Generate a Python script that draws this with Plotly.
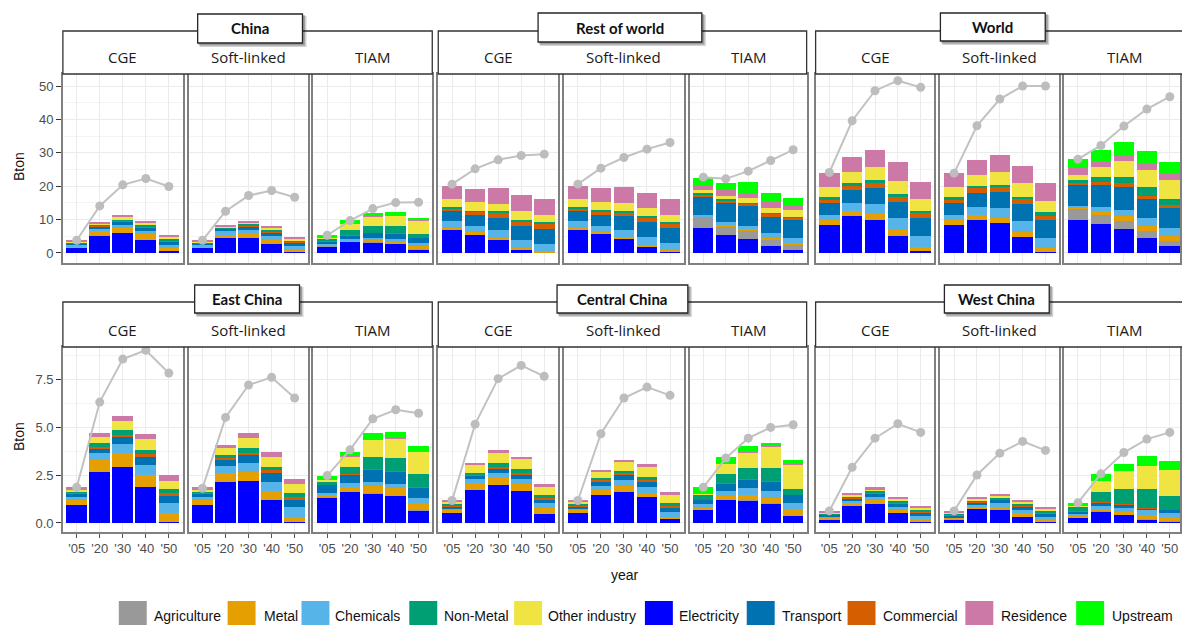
import numpy as np
import plotly.graph_objects as go

W, H = 1182, 625

YEARS = ["'05", "'20", "'30", "'40", "'50"]
MODELS = ["CGE", "Soft-linked", "TIAM"]
REGIONS = ["China", "Rest of world", "World", "East China", "Central China", "West China"]

# stacking order (bottom -> top)
STACK = ["Electricity", "Agriculture", "Metal", "Chemicals", "Transport",
         "Commercial", "Non-Metal", "Other industry", "Residence", "Upstream"]
LEGEND_ORDER = ["Agriculture", "Metal", "Chemicals", "Non-Metal", "Other industry",
                "Electricity", "Transport", "Commercial", "Residence", "Upstream"]
COLORS = {
    "Agriculture": "#999999", "Metal": "#E69F00", "Chemicals": "#56B4E9",
    "Non-Metal": "#009E73", "Other industry": "#F0E442", "Electricity": "#0000FF",
    "Transport": "#0072B2", "Commercial": "#D55E00", "Residence": "#CC79A7",
    "Upstream": "#00FF00",
}

# Cumulative stack tops (Bton) per year, in STACK order
CHINA_TOPS = {
    "CGE": [[1.5, 1.5, 2.0, 2.4, 2.8, 2.9, 3.2, 3.55, 3.8, 3.8],
            [5.2, 5.2, 6.5, 7.2, 8.0, 8.2, 8.5, 8.9, 9.2, 9.2],
            [6.0, 6.0, 7.5, 8.5, 9.5, 9.7, 10.0, 10.8, 11.1, 11.1],
            [4.0, 4.0, 5.7, 6.7, 7.7, 7.9, 8.3, 9.1, 9.5, 9.5],
            [0.5, 0.5, 1.5, 2.5, 3.5, 3.8, 4.2, 4.9, 5.4, 5.4]],
    "Soft-linked": [[1.5, 1.5, 2.0, 2.4, 2.8, 2.9, 3.2, 3.55, 3.8, 3.8],
                    [4.5, 4.5, 5.5, 6.5, 7.2, 7.4, 7.6, 8.0, 8.2, 8.2],
                    [4.5, 4.5, 6.0, 7.0, 8.0, 8.2, 8.6, 9.2, 9.5, 9.5],
                    [2.7, 2.7, 4.0, 5.2, 6.2, 6.5, 6.9, 7.6, 8.0, 8.0],
                    [0.3, 0.3, 1.0, 2.2, 3.2, 3.4, 3.7, 4.4, 4.7, 4.7]],
    "TIAM": [[2.0, 2.2, 2.4, 2.7, 3.4, 3.5, 4.3, 4.6, 4.7, 5.3],
             [3.3, 3.4, 3.7, 4.2, 5.2, 5.3, 6.8, 8.7, 8.8, 9.8],
             [3.2, 3.3, 3.8, 4.6, 6.0, 6.1, 8.1, 11.0, 11.1, 12.0],
             [2.7, 2.8, 3.4, 4.2, 5.8, 5.9, 8.0, 11.2, 11.3, 12.4],
             [1.1, 1.2, 2.1, 3.0, 4.5, 4.6, 5.8, 9.7, 9.8, 10.5]],
}
ROW_TOPS = {
    "CGE": [[6.8, 6.8, 7.5, 9.5, 12.5, 13.1, 13.9, 16.2, 20.2, 20.2],
            [5.5, 5.5, 6.2, 8.0, 11.5, 12.3, 12.7, 15.4, 19.2, 19.2],
            [4.0, 4.0, 4.5, 6.8, 10.5, 12.0, 12.5, 14.7, 19.4, 19.4],
            [1.0, 1.0, 1.5, 4.0, 8.2, 9.5, 10.0, 12.5, 17.4, 17.4],
            [0.2, 0.2, 0.5, 2.7, 7.2, 8.8, 9.2, 11.5, 16.1, 16.1]],
    "Soft-linked": [[6.8, 6.8, 7.5, 9.5, 12.5, 13.1, 13.9, 16.2, 20.2, 20.2],
                    [5.7, 5.7, 6.3, 8.2, 11.5, 12.5, 12.9, 15.4, 19.6, 19.6],
                    [4.3, 4.3, 4.8, 7.0, 11.0, 12.2, 12.6, 15.1, 19.7, 19.7],
                    [2.0, 2.0, 2.5, 4.8, 9.2, 10.4, 11.0, 13.4, 18.1, 18.1],
                    [0.5, 0.5, 0.8, 3.0, 7.5, 8.8, 9.2, 11.5, 16.1, 16.1]],
    "TIAM": [[7.5, 10.8, 11.0, 11.5, 16.9, 17.4, 17.9, 18.9, 20.4, 22.6],
             [5.4, 8.0, 8.5, 9.2, 14.9, 15.6, 16.1, 17.2, 18.9, 21.1],
             [4.2, 6.8, 7.2, 8.0, 14.0, 14.7, 15.1, 16.6, 18.1, 21.2],
             [2.0, 3.8, 4.5, 6.0, 10.8, 11.7, 12.0, 13.4, 15.2, 18.1],
             [0.8, 2.3, 3.0, 4.5, 10.0, 10.5, 10.8, 12.9, 14.1, 16.4]],
}
WORLD_TOPS = {
    "CGE": [[8.5, 8.5, 9.8, 11.5, 15.1, 15.9, 16.9, 19.7, 23.9, 23.9],
            [11.0, 11.0, 12.5, 14.9, 18.9, 20.1, 20.9, 24.4, 28.7, 28.7],
            [10.0, 10.0, 11.8, 14.7, 19.4, 20.9, 21.9, 25.7, 30.7, 30.7],
            [5.0, 5.0, 7.0, 10.5, 15.4, 16.7, 17.6, 21.7, 27.1, 27.1],
            [0.5, 0.5, 1.8, 5.0, 10.5, 12.0, 12.7, 16.1, 21.4, 21.4]],
    "Soft-linked": [[8.5, 8.5, 9.8, 11.5, 15.1, 15.9, 16.9, 19.7, 23.9, 23.9],
                    [10.0, 10.0, 11.5, 13.9, 18.1, 19.4, 20.1, 23.4, 27.7, 27.7],
                    [9.0, 9.0, 10.5, 13.4, 18.4, 19.7, 20.4, 24.4, 29.4, 29.4],
                    [4.8, 4.8, 6.2, 9.5, 14.7, 16.1, 16.9, 20.9, 26.1, 26.1],
                    [0.2, 0.2, 1.5, 4.5, 10.0, 11.2, 12.2, 15.6, 20.9, 20.9]],
    "TIAM": [[10.0, 13.4, 13.7, 14.1, 20.4, 21.1, 21.9, 23.4, 25.4, 28.1],
             [8.8, 11.5, 12.5, 13.9, 20.4, 21.4, 22.7, 25.9, 27.4, 30.9],
             [7.2, 9.5, 11.0, 12.9, 19.9, 20.9, 22.9, 27.4, 28.9, 33.1],
             [4.5, 6.5, 8.0, 10.5, 16.1, 17.1, 19.7, 24.9, 26.9, 30.4],
             [2.0, 3.5, 5.0, 7.5, 13.4, 14.4, 16.1, 21.9, 23.9, 27.2]],
}
EAST_TOPS = {
    "CGE": [[0.94, 0.94, 1.2, 1.37, 1.55, 1.58, 1.64, 1.76, 1.86, 1.86],
            [2.68, 2.68, 3.29, 3.64, 3.9, 3.98, 4.16, 4.5, 4.68, 4.68],
            [2.9, 2.9, 3.64, 4.12, 4.5, 4.6, 4.85, 5.34, 5.6, 5.6],
            [1.86, 1.86, 2.5, 3.03, 3.46, 3.6, 3.81, 4.37, 4.65, 4.65],
            [0.03, 0.03, 0.5, 1.03, 1.41, 1.55, 1.77, 2.2, 2.49, 2.49]],
    "Soft-linked": [[0.94, 0.94, 1.2, 1.37, 1.55, 1.58, 1.64, 1.76, 1.86, 1.86],
                    [2.16, 2.16, 2.63, 2.98, 3.29, 3.38, 3.55, 3.9, 4.04, 4.04],
                    [2.21, 2.21, 2.68, 3.15, 3.55, 3.67, 3.9, 4.42, 4.68, 4.68],
                    [1.2, 1.2, 1.69, 2.16, 2.59, 2.77, 2.94, 3.46, 3.72, 3.72],
                    [0.07, 0.07, 0.33, 0.85, 1.2, 1.37, 1.55, 2.04, 2.28, 2.28]],
    "TIAM": [[1.34, 1.36, 1.46, 1.55, 1.98, 2.0, 2.16, 2.28, 2.3, 2.47],
             [1.62, 1.64, 1.9, 2.07, 2.5, 2.53, 2.94, 3.46, 3.48, 3.72],
             [1.55, 1.57, 1.93, 2.16, 2.77, 2.8, 3.43, 4.33, 4.35, 4.68],
             [1.41, 1.43, 1.81, 2.04, 2.68, 2.72, 3.38, 4.42, 4.44, 4.72],
             [0.64, 0.66, 1.06, 1.29, 1.86, 1.88, 2.54, 3.72, 3.74, 4.02]],
}
CENTRAL_TOPS = {
    "CGE": [[0.5, 0.5, 0.68, 0.77, 0.85, 0.88, 0.99, 1.11, 1.2, 1.2],
            [1.72, 1.72, 2.07, 2.28, 2.45, 2.5, 2.63, 3.0, 3.11, 3.11],
            [1.98, 1.98, 2.38, 2.63, 2.85, 2.94, 3.11, 3.64, 3.81, 3.81],
            [1.69, 1.69, 2.04, 2.28, 2.54, 2.63, 2.8, 3.32, 3.46, 3.46],
            [0.47, 0.47, 0.77, 1.03, 1.24, 1.32, 1.46, 1.9, 2.02, 2.02]],
    "Soft-linked": [[0.5, 0.5, 0.68, 0.77, 0.85, 0.88, 0.99, 1.11, 1.2, 1.2],
                    [1.46, 1.46, 1.72, 1.93, 2.16, 2.24, 2.33, 2.68, 2.77, 2.77],
                    [1.64, 1.64, 1.93, 2.24, 2.5, 2.59, 2.73, 3.18, 3.29, 3.29],
                    [1.37, 1.37, 1.58, 1.9, 2.16, 2.24, 2.38, 2.94, 3.06, 3.06],
                    [0.19, 0.19, 0.3, 0.59, 0.82, 0.9, 1.06, 1.46, 1.6, 1.6]],
    "TIAM": [[0.68, 0.7, 0.8, 0.99, 1.2, 1.22, 1.46, 1.55, 1.57, 1.86],
             [1.2, 1.22, 1.41, 1.69, 2.04, 2.06, 2.56, 3.11, 3.13, 3.46],
             [1.17, 1.19, 1.46, 1.81, 2.24, 2.28, 2.85, 3.67, 3.69, 4.02],
             [1.03, 1.05, 1.29, 1.69, 2.16, 2.2, 2.85, 3.98, 4.0, 4.19],
             [0.37, 0.39, 0.71, 1.06, 1.46, 1.48, 1.76, 3.06, 3.08, 3.29]],
}
WEST_TOPS = {
    "CGE": [[0.19, 0.19, 0.28, 0.33, 0.42, 0.45, 0.5, 0.56, 0.63, 0.63],
            [0.89, 0.89, 1.03, 1.17, 1.29, 1.32, 1.37, 1.5, 1.58, 1.58],
            [0.99, 0.99, 1.2, 1.37, 1.55, 1.6, 1.67, 1.77, 1.86, 1.86],
            [0.5, 0.5, 0.68, 0.85, 1.03, 1.07, 1.17, 1.29, 1.37, 1.37],
            [0.03, 0.03, 0.19, 0.37, 0.54, 0.6, 0.68, 0.8, 0.89, 0.89]],
    "Soft-linked": [[0.17, 0.17, 0.26, 0.31, 0.4, 0.43, 0.48, 0.53, 0.59, 0.59],
                    [0.71, 0.71, 0.82, 0.94, 1.06, 1.1, 1.17, 1.27, 1.34, 1.34],
                    [0.68, 0.68, 0.85, 1.03, 1.2, 1.24, 1.34, 1.43, 1.51, 1.51],
                    [0.3, 0.3, 0.5, 0.68, 0.85, 0.9, 0.99, 1.08, 1.2, 1.2],
                    [0.03, 0.03, 0.16, 0.33, 0.5, 0.55, 0.64, 0.71, 0.82, 0.82]],
    "TIAM": [[0.28, 0.29, 0.37, 0.45, 0.59, 0.6, 0.85, 0.92, 0.93, 1.06],
             [0.59, 0.6, 0.71, 0.89, 1.06, 1.07, 1.6, 2.19, 2.2, 2.54],
             [0.42, 0.43, 0.59, 0.8, 0.97, 0.98, 1.76, 2.71, 2.72, 3.08],
             [0.19, 0.2, 0.42, 0.68, 0.77, 0.78, 1.76, 2.98, 2.99, 3.51],
             [0.09, 0.1, 0.33, 0.5, 0.68, 0.69, 1.43, 2.8, 2.81, 3.25]],
}

# Grey line values (Bton)
CHINA_LINE = {"CGE": [3.8, 14.1, 20.4, 22.3, 19.9], "Soft-linked": [3.8, 12.5, 17.2, 18.7, 16.7],
              "TIAM": [5.3, 9.7, 13.3, 15.1, 15.2]}
ROW_LINE = {"CGE": [20.6, 25.2, 27.9, 29.2, 29.6], "Soft-linked": [20.6, 25.4, 28.6, 31.1, 33.1],
            "TIAM": [22.7, 22.2, 24.5, 27.7, 30.9]}
WORLD_LINE = {"CGE": [24.1, 39.6, 48.6, 51.6, 49.6], "Soft-linked": [23.9, 38.1, 46.1, 50.0, 50.0],
              "TIAM": [28.1, 32.2, 38.0, 43.1, 46.8]}
EAST_LINE = {"CGE": [1.86, 6.3, 8.54, 9.0, 7.81], "Soft-linked": [1.81, 5.5, 7.19, 7.59, 6.51],
             "TIAM": [2.47, 3.81, 5.43, 5.9, 5.72]}
CENTRAL_LINE = {"CGE": [1.17, 5.15, 7.52, 8.21, 7.64], "Soft-linked": [1.17, 4.65, 6.51, 7.08, 6.65],
                "TIAM": [1.86, 3.38, 4.42, 4.98, 5.12]}
WEST_LINE = {"CGE": [0.63, 2.9, 4.42, 5.17, 4.72], "Soft-linked": [0.63, 2.5, 3.64, 4.25, 3.78],
             "TIAM": [1.06, 2.56, 3.67, 4.37, 4.72]}

TOP_TICKS = [0, 10, 20, 30, 40, 50]
BOTTOM_TICKS = [0.0, 2.5, 5.0, 7.5]

ALL_TOPS = [CHINA_TOPS, ROW_TOPS, WORLD_TOPS, EAST_TOPS, CENTRAL_TOPS, WEST_TOPS]
ALL_LINES = [CHINA_LINE, ROW_LINE, WORLD_LINE, EAST_LINE, CENTRAL_LINE, WEST_LINE]

# ---------------- layout geometry (pixels) ----------------
PANEL_X = [[(63, 183), (189, 309), (314, 433)],
           [(439, 559), (565, 685), (691, 808)],
           [(817, 936), (942, 1061), (1066, 1182)]]
ROW_Y = [(74, 263), (347, 532)]
ROW_RANGE = [(-3.0, 53.6), (-0.47, 9.17)]
STRIP_Y = [(31, 74), (302, 347)]
STRIP_TEXT_Y = [57, 330]
LABEL_BOX = [(198, 303, 14, 43), (539, 703, 13, 42), (942, 1047, 13, 41),
             (195, 300, 285, 313), (558, 689, 285, 313), (946, 1051, 285, 313)]


def px(x):
    return x / W


def py(y):
    return 1 - y / H


fig = go.Figure()
layout = {}
shapes = []
annotations = []
xs = list(range(len(YEARS)))

for ri, region in enumerate(REGIONS):
    row = ri // 3
    col = ri % 3
    for mi, model in enumerate(MODELS):
        idx = ri * 3 + mi + 1
        sfx = "" if idx == 1 else str(idx)
        tops = np.array(ALL_TOPS[ri][model], dtype=float)
        base = np.concatenate([np.zeros((tops.shape[0], 1)), tops], axis=1)
        segs = np.clip(np.diff(base, axis=1), 0, None)
        for k, sector in enumerate(STACK):
            fig.add_trace(go.Bar(
                x=xs, y=segs[:, k], width=0.9, marker=dict(color=COLORS[sector], line=dict(width=0)),
                name=sector, showlegend=False, xaxis="x" + sfx, yaxis="y" + sfx,
                hovertemplate=region + " " + model + "<br>" + sector + ": %{y:.2f}<extra></extra>"))
        fig.add_trace(go.Scatter(
            x=xs, y=ALL_LINES[ri][model], mode="lines+markers",
            line=dict(color="#c2c2c2", width=2), marker=dict(color="#bdbdbd", size=9),
            showlegend=False, xaxis="x" + sfx, yaxis="y" + sfx, hoverinfo="y"))

        x0, x1 = PANEL_X[col][mi]
        y0, y1 = ROW_Y[row]
        is_last = (col == 2 and mi == 2)
        xr = [-0.6, -0.6 + (x1 - x0) / 23.0] if is_last else [-0.6, 4.6]
        layout["xaxis" + sfx] = dict(
            domain=[px(x0), px(x1)], range=xr, anchor="y" + sfx,
            tickmode="array", tickvals=xs, ticktext=YEARS,
            showticklabels=(row == 1), ticks="outside" if row == 1 else "",
            ticklen=4, tickcolor="#555555",
            tickfont=dict(family="Liberation Sans, Arial", size=13, color="#4d4d4d"),
            showgrid=True, gridcolor="#ebebeb", gridwidth=1, zeroline=False,
            showline=True, mirror=True, linecolor="#808080", linewidth=1.5,
            fixedrange=True)
        ticks = TOP_TICKS if row == 0 else BOTTOM_TICKS
        step = ticks[1] - ticks[0]
        first = (mi == 0 and col == 0)
        layout["yaxis" + sfx] = dict(
            domain=[py(y1), py(y0)], range=list(ROW_RANGE[row]), anchor="x" + sfx,
            tickmode="linear", tick0=0, dtick=step,
            tickformat=".1f" if row == 1 else "d",
            showticklabels=first, ticks="outside" if first else "", ticklen=5,
            tickcolor="#333333",
            tickfont=dict(family="Liberation Sans, Arial", size=13, color="#4d4d4d"),
            showgrid=True, gridcolor="#ebebeb", gridwidth=1, zeroline=False,
            minor=dict(tickmode="linear", tick0=0, dtick=step / 2, showgrid=True,
                       gridcolor="#f4f4f4", gridwidth=0.6, ticks=""),
            showline=True, mirror=True, linecolor="#808080", linewidth=1.5,
            fixedrange=True)

        # sub-strip label
        annotations.append(dict(
            x=px((x0 + x1) / 2) if not is_last else px((x0 + x0 + 120) / 2),
            y=py(STRIP_TEXT_Y[row]), xref="paper", yref="paper",
            text=model, showarrow=False, xanchor="center", yanchor="middle",
            font=dict(family="Open Sans", size=15, color="#1a1a1a")))

    # group strip box
    gx0 = PANEL_X[col][0][0]
    gx1 = PANEL_X[col][2][1] if col < 2 else 1192
    sy0, sy1 = STRIP_Y[row]
    shapes.append(dict(type="rect", xref="paper", yref="paper",
                       x0=px(gx0), x1=px(gx1), y0=py(sy1), y1=py(sy0),
                       fillcolor="white", line=dict(color="#333333", width=1.3), layer="above"))
    # label box with shadow
    bx0, bx1, by0, by1 = LABEL_BOX[ri]
    shapes.append(dict(type="rect", xref="paper", yref="paper",
                       x0=px(bx0 + 2), x1=px(bx1 + 4), y0=py(by1 + 4), y1=py(by0 + 2),
                       fillcolor="rgba(0,0,0,0.18)", line=dict(width=0), layer="above"))
    shapes.append(dict(type="rect", xref="paper", yref="paper",
                       x0=px(bx0 + 1), x1=px(bx1 + 2.5), y0=py(by1 + 2.5), y1=py(by0 + 1),
                       fillcolor="rgba(0,0,0,0.25)", line=dict(width=0), layer="above"))
    shapes.append(dict(type="rect", xref="paper", yref="paper",
                       x0=px(bx0), x1=px(bx1), y0=py(by1), y1=py(by0),
                       fillcolor="white", line=dict(color="#262626", width=1.3), layer="above"))
    annotations.append(dict(
        x=px((bx0 + bx1) / 2), y=py((by0 + by1) / 2), xref="paper", yref="paper",
        text="<b>" + region + "</b>", showarrow=False, xanchor="center", yanchor="middle",
        font=dict(family="Lato", size=15, color="#111111")))

# axis titles
for yc in (166, 436):
    annotations.append(dict(x=px(19), y=py(yc), xref="paper", yref="paper", text="Bton",
                            textangle=-90, showarrow=False, xanchor="center", yanchor="middle",
                            font=dict(family="Liberation Sans, Arial", size=14, color="#111111")))
annotations.append(dict(x=px(626), y=py(575), xref="paper", yref="paper", text="year",
                        showarrow=False, xanchor="center", yanchor="middle",
                        font=dict(family="Liberation Sans, Arial", size=14, color="#111111")))

# manual legend
LEG_POS = [(119, 152), (228, 262), (302, 334), (410, 443), (515, 547),
           (646, 678), (748, 781), (849, 882), (967, 1001), (1078, 1112)]
for name, (sx, tx) in zip(LEGEND_ORDER, LEG_POS):
    shapes.append(dict(type="rect", xref="paper", yref="paper",
                       x0=px(sx), x1=px(sx + 28), y0=py(632), y1=py(601),
                       fillcolor=COLORS[name], line=dict(width=0)))
    annotations.append(dict(x=px(tx), y=py(616), xref="paper", yref="paper", text=name,
                            showarrow=False, xanchor="left", yanchor="middle",
                            font=dict(family="Liberation Sans, Arial", size=14, color="#111111")))

fig.update_layout(
    width=W, height=H, margin=dict(l=0, r=0, t=0, b=0),
    paper_bgcolor="white", plot_bgcolor="white",
    barmode="stack", bargap=0.1, showlegend=False,
    shapes=shapes, annotations=annotations, **layout)

fig.write_html("out.html", config={"displayModeBar": False},
               post_script="document.body.style.margin='0';document.body.style.overflow='hidden';")
